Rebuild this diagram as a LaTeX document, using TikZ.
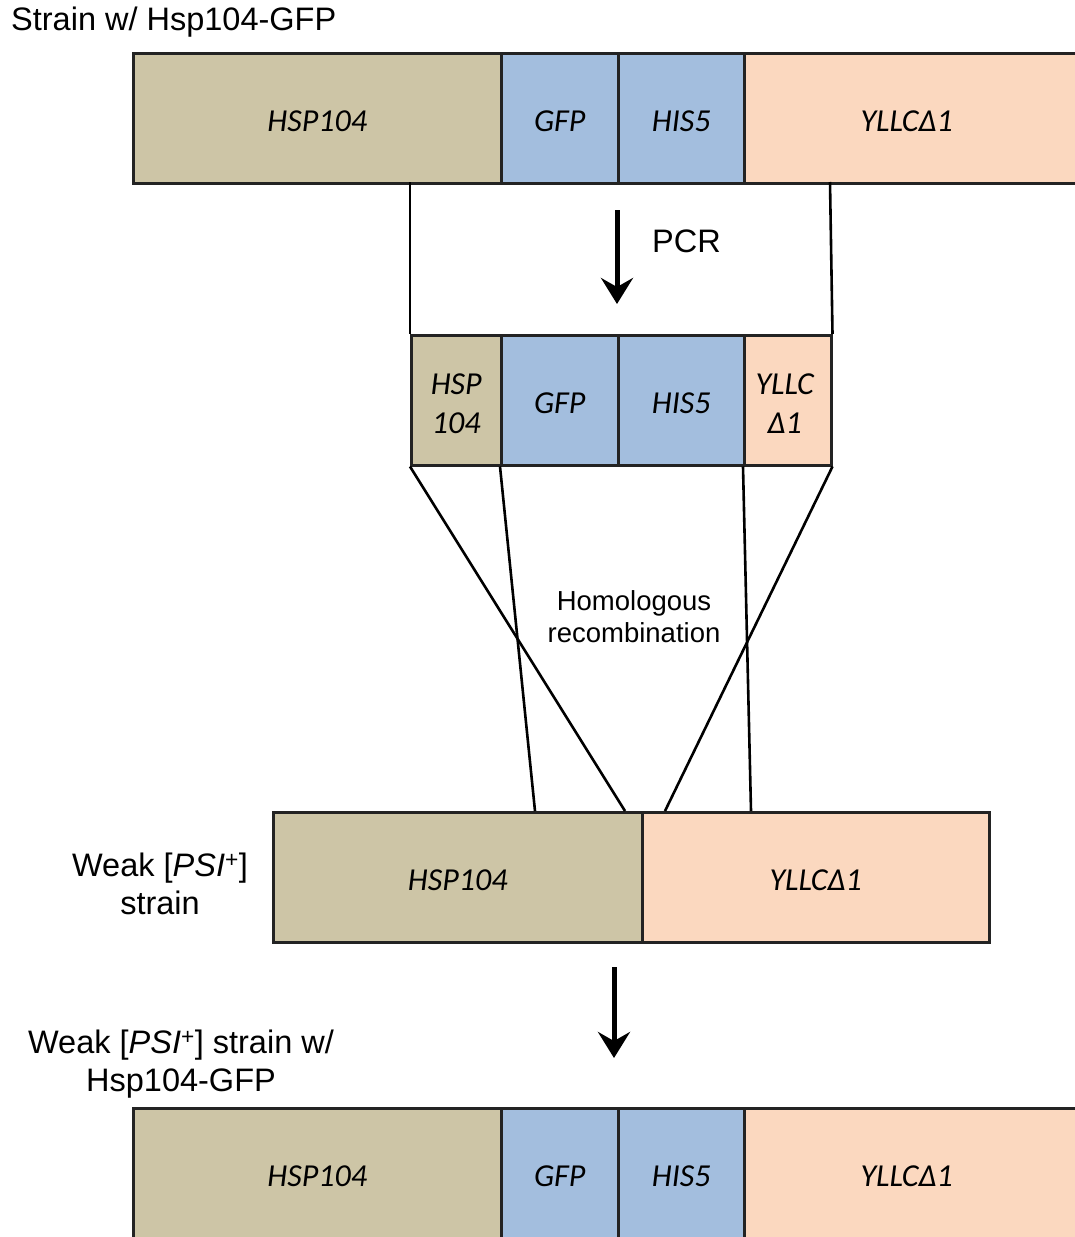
\documentclass[tikz,border=0pt]{standalone}
\usepackage{fontspec}
\setmainfont{Liberation Sans}
\newfontfamily\genefont{Carlito}
\usetikzlibrary{arrows.meta}
\definecolor{tanc}{RGB}{205,197,166}
\definecolor{bluec}{RGB}{163,190,222}
\definecolor{peachc}{RGB}{251,216,191}
\definecolor{edgec}{RGB}{35,35,35}
\newcommand{\gl}[1]{\raisebox{-3pt}[\height][\depth]{#1}}
\begin{document}
\begin{tikzpicture}[x=1pt,y=-1pt,
  seg/.style={draw=edgec,line width=2.5pt,inner sep=0pt,anchor=north west,
    minimum height=130pt,font=\genefont\itshape\fontsize{32}{37}\selectfont,align=center},
  lbl/.style={font=\fontsize{32.5}{37.5}\selectfont,align=center,inner sep=0pt},
  conn/.style={draw=black,line width=2.6pt},
  bigarrow/.style={draw=black,line width=5pt,-{Stealth[length=26pt,width=32pt,inset=9pt]}}]
\useasboundingbox (0,0) rectangle (1075,1237);
\clip (0,0) rectangle (1075,1237);
% top bar
\node[seg,fill=tanc,minimum width=368pt] (t1) at (132,52) {\gl{HSP104}};
\node[seg,fill=bluec,minimum width=117pt] (t2) at (500,52) {\gl{GFP}};
\node[seg,fill=bluec,minimum width=126pt] (t3) at (617,52) {\gl{HIS5}};
\node[seg,fill=peachc,minimum width=360pt] (t4) at (743,52) {\hspace{-35pt}\gl{YLLCΔ1}};
\node[lbl,anchor=west] (toplbl) at (11,22) {Strain w/ Hsp104-GFP};
% middle bar
\node[seg,fill=tanc,minimum width=90pt] (m1) at (410,334) {\gl{HSP}\\[2pt]\gl{104}};
\node[seg,fill=bluec,minimum width=117pt] (m2) at (500,334) {\gl{GFP}};
\node[seg,fill=bluec,minimum width=126pt] (m3) at (617,334) {\gl{HIS5}};
\node[seg,fill=peachc,minimum width=87pt] (m4) at (743,334) {\hspace{-6pt}\gl{YLLC}\\[2pt]\hspace{-6pt}\gl{Δ1}};
% PCR connectors
\coordinate (pcrL) at (410,182);
\coordinate (pcrR) at (830,182);
\draw[conn] (pcrL) -- (m1.north west);
\draw[conn] (pcrR) -- (m4.north east);
\coordinate (pa) at (617,210);
\coordinate (pb) at (617,304);
\draw[bigarrow] (pa) -- (pb);
\node[lbl,anchor=west] (pcr) at (652,241) {PCR};
% weak strain bar
\node[seg,fill=tanc,minimum width=369pt] (w1) at (272,811) {\gl{HSP104}};
\node[seg,fill=peachc,minimum width=347pt] (w2) at (641,811) {\gl{YLLCΔ1}};
\node[lbl] (wlbl) at (160,884) {Weak [\textit{PSI}\textsuperscript{+}]\\strain};
% recombination lines
\coordinate (r1) at (625,811);
\coordinate (r2) at (535,811);
\coordinate (r3) at (751,811);
\coordinate (r4) at (665,811);
\draw[conn] (m1.south west) -- (r1);
\draw[conn] (m2.south west) -- (r2);
\draw[conn] (m4.south west) -- (r3);
\draw[conn] (m4.south east) -- (r4);
\node[font=\fontsize{27.5}{32}\selectfont,align=center,inner sep=0pt] (hr) at (634,617) {Homologous\\recombination};
% second arrow
\coordinate (qa) at (614,967);
\coordinate (qb) at (614,1058);
\draw[bigarrow] (qa) -- (qb);
\node[lbl] (flbl) at (181,1064) {Weak [\textit{PSI}\textsuperscript{+}] strain w/\\Hsp104-GFP};
% final bar
\node[seg,fill=tanc,minimum width=368pt] (b1) at (132,1107) {\gl{HSP104}};
\node[seg,fill=bluec,minimum width=117pt] (b2) at (500,1107) {\gl{GFP}};
\node[seg,fill=bluec,minimum width=126pt] (b3) at (617,1107) {\gl{HIS5}};
\node[seg,fill=peachc,minimum width=360pt] (b4) at (743,1107) {\hspace{-35pt}\gl{YLLCΔ1}};
\end{tikzpicture}
\end{document}
